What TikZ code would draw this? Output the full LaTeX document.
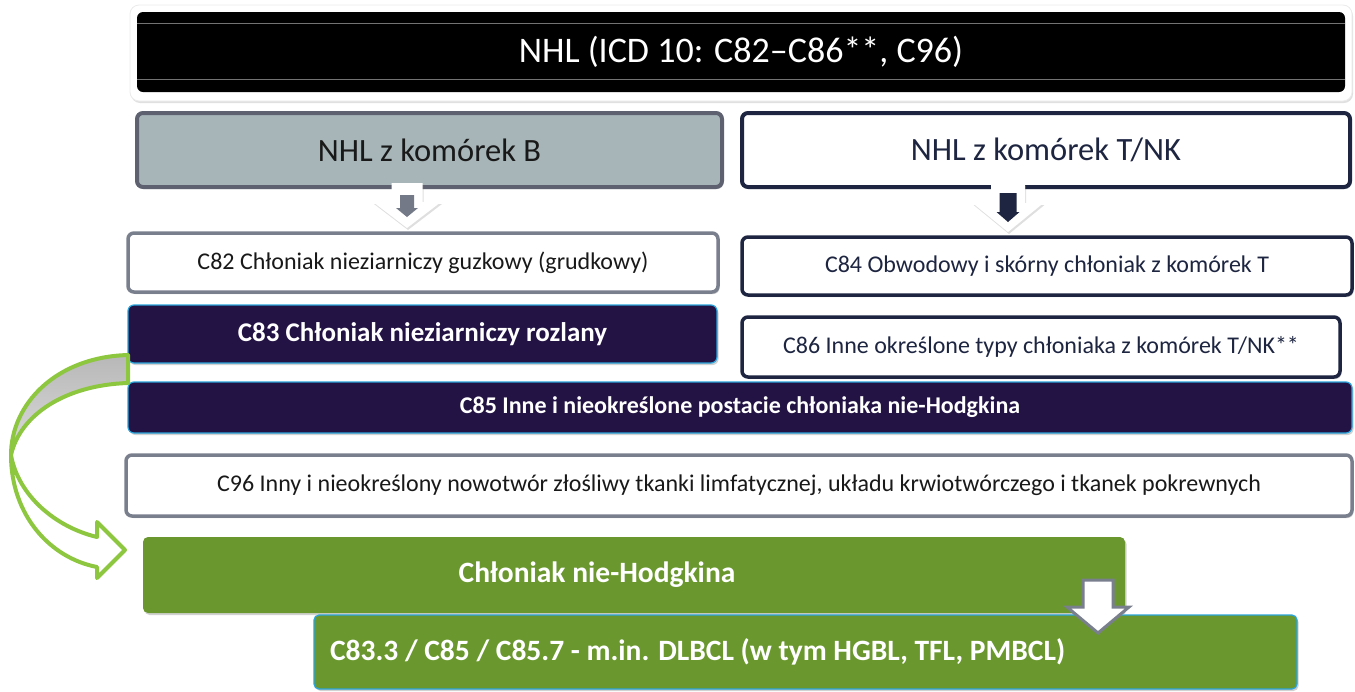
\documentclass[tikz,border=0pt]{standalone}
\usepackage{fontspec}
\setmainfont{Carlito}
\usetikzlibrary{shadows}
\definecolor{navy}{HTML}{1D2541}
\definecolor{slate}{HTML}{7A7F8E}
\definecolor{slatedk}{HTML}{5D6170}
\definecolor{bgray}{HTML}{A7B5B9}
\definecolor{purp}{HTML}{231344}
\definecolor{skyline}{HTML}{2AA4DC}
\definecolor{leaf}{HTML}{6A982E}
\definecolor{lime}{HTML}{8DC63F}
\newcommand{\fs}[1]{\fontsize{#1}{#1}\selectfont}
\begin{document}
\begin{tikzpicture}[x=1pt,y=-1pt,inner sep=0pt,outer sep=0pt,
softshadow/.style={drop shadow={shadow xshift=1.5pt,shadow yshift=-2pt,opacity=0.3,fill=black!60}},
headbox/.style={rectangle,rounded corners=6pt,fill=black,text=white,font=\fs{36}},
bbox/.style={rectangle,rounded corners=6pt,draw=slatedk,fill=bgray,line width=4pt,text=black!90,font=\fs{32.5},softshadow},
tbox/.style={rectangle,rounded corners=6pt,draw=navy,fill=white,line width=4pt,text=navy,font=\fs{32.5},softshadow},
codebox/.style={rectangle,rounded corners=6pt,fill=white,line width=3.5pt,text=black!90,font=\fs{24},softshadow},
darkbox/.style={rectangle,rounded corners=6pt,draw=skyline,fill=purp,line width=1.2pt,text=white,font=\bfseries\fs{27},softshadow},
greenbox/.style={rectangle,rounded corners=5pt,fill=leaf,text=white,font=\bfseries\fs{29.5},softshadow},
whitearrow/.style={fill=white,drop shadow={shadow xshift=1pt,shadow yshift=-2pt,opacity=0.25,fill=black!50}},
curvearrow/.style={draw=lime,line width=4pt,line join=round}]

\useasboundingbox (0,0) rectangle (1355,691);

% header
\draw (741,53) node[rectangle,rounded corners=9pt,fill=white,draw=black!8,line width=0.8pt,minimum width=1222pt,minimum height=96pt,
  drop shadow={shadow xshift=1pt,shadow yshift=-2pt,opacity=0.3,fill=black!40}] (frame) {};
\draw (741,52) node[headbox,minimum width=1208pt,minimum height=80pt] (hdr) {NHL (ICD 10: C82–C86**, C96)};
\draw[black!55,line width=0.8pt] ([yshift=-11pt]hdr.north west) -- ([yshift=-11pt]hdr.north east);
\draw[black!55,line width=0.8pt] ([yshift=13pt]hdr.south west) -- ([yshift=13pt]hdr.south east);

% B and T/NK columns
\draw (429.5,150) node[bbox,minimum width=585pt,minimum height=74pt] (nhlb) {NHL z komórek B};
\draw (1046,150) node[tbox,minimum width=608pt,minimum height=74pt] (nhlt) {NHL z komórek T/NK};

% block arrows below them
\coordinate (arrb) at (407,183);
\coordinate (arrt) at (1008,184);
\fill[whitearrow] (arrb) ++(-15.5,0) -- ++(31,0) -- ++(0,19) -- ++(18.5,0) -- ++(-34,26) -- ++(-34,-26) -- ++(18.5,0) -- cycle;
\fill[whitearrow] (arrt) ++(-17,0) -- ++(34,0) -- ++(0,19) -- ++(18.5,0) -- ++(-35.5,29) -- ++(-35.5,-29) -- ++(18.5,0) -- cycle;
\fill[slate!95!black] (arrb) ++(-7,12) -- ++(14,0) -- ++(0,13) -- ++(4,0) -- ++(-11,9) -- ++(-11,-9) -- ++(4,0) -- cycle;
\fill[navy] (arrt) ++(-8.5,9) -- ++(17,0) -- ++(0,19) -- ++(3,0) -- ++(-11.5,10) -- ++(-11.5,-10) -- ++(3,0) -- cycle;

% codes
\draw (423,262.5) node[codebox,draw=slate,minimum width=590pt,minimum height=59pt] (c82) {C82 Chłoniak nieziarniczy guzkowy (grudkowy)};
\draw (1047,266) node[codebox,draw=navy,text=navy,minimum width=610pt,minimum height=58pt] (c84) {C84 Obwodowy i skórny chłoniak z komórek T};
\draw (422.5,334) node[darkbox,minimum width=589pt,minimum height=58pt] (c83) {C83 Chłoniak nieziarniczy rozlany};
\draw (1041,347) node[codebox,draw=navy,text=navy,minimum width=598pt,minimum height=60pt] (c86) {C86 Inne określone typy chłoniaka z komórek T/NK**};
\draw (740,407.5) node[darkbox,font=\bfseries\fs{24},minimum width=1224pt,minimum height=51pt] (c85) {C85 Inne i nieokreślone postacie chłoniaka nie-Hodgkina};
\draw (739,485.5) node[codebox,draw=slate,font=\fs{24},minimum width=1226pt,minimum height=61pt] (c96) {C96 Inny i nieokreślony nowotwór złośliwy tkanki limfatycznej, układu krwiotwórczego i tkanek pokrewnych};

% curved arrow from C83 down to the green box
\coordinate (bend) at (11,455);
\draw[curvearrow,top color=black!28,bottom color=black!14] (c83.west |- 0,355) .. controls (55,357) and (11,405) .. (bend)
  .. controls (20,415) and (65,385) .. (c83.west |- 0,383) -- cycle;
\draw[curvearrow,fill=white] (bend) .. controls (11,515) and (50,558) .. (97,567) -- (97,578) -- (125,550) -- (97,522) -- (97,537)
  .. controls (55,527) and (18,495) .. (bend);

% result
\draw (634,575) node[greenbox,minimum width=982pt,minimum height=76pt] (nhlg) {};
\draw (597,575) node[text=white,font=\bfseries\fs{29.5}] (nhlgtxt) {Chłoniak nie-Hodgkina};
\draw (805.5,652) node[greenbox,draw=skyline,line width=1.2pt,minimum width=983pt,minimum height=74pt] (dlbcl) {};
\draw (dlbcl.west) ++(16,0) node[right,text=white,font=\bfseries\fs{29.5}] (dlbcltxt) {C83.3 / C85 / C85.7 - m.in. DLBCL (w tym HGBL, TFL, PMBCL)};

\coordinate (arrg) at (1098,580);
\draw[fill=white,draw=slate,line width=3pt,line join=miter] (arrg) ++(-15,0) -- ++(30,0) -- ++(0,27) -- ++(16,0) -- ++(-31,26) -- ++(-31,-26) -- ++(16,0) -- cycle;
\end{tikzpicture}
\end{document}
